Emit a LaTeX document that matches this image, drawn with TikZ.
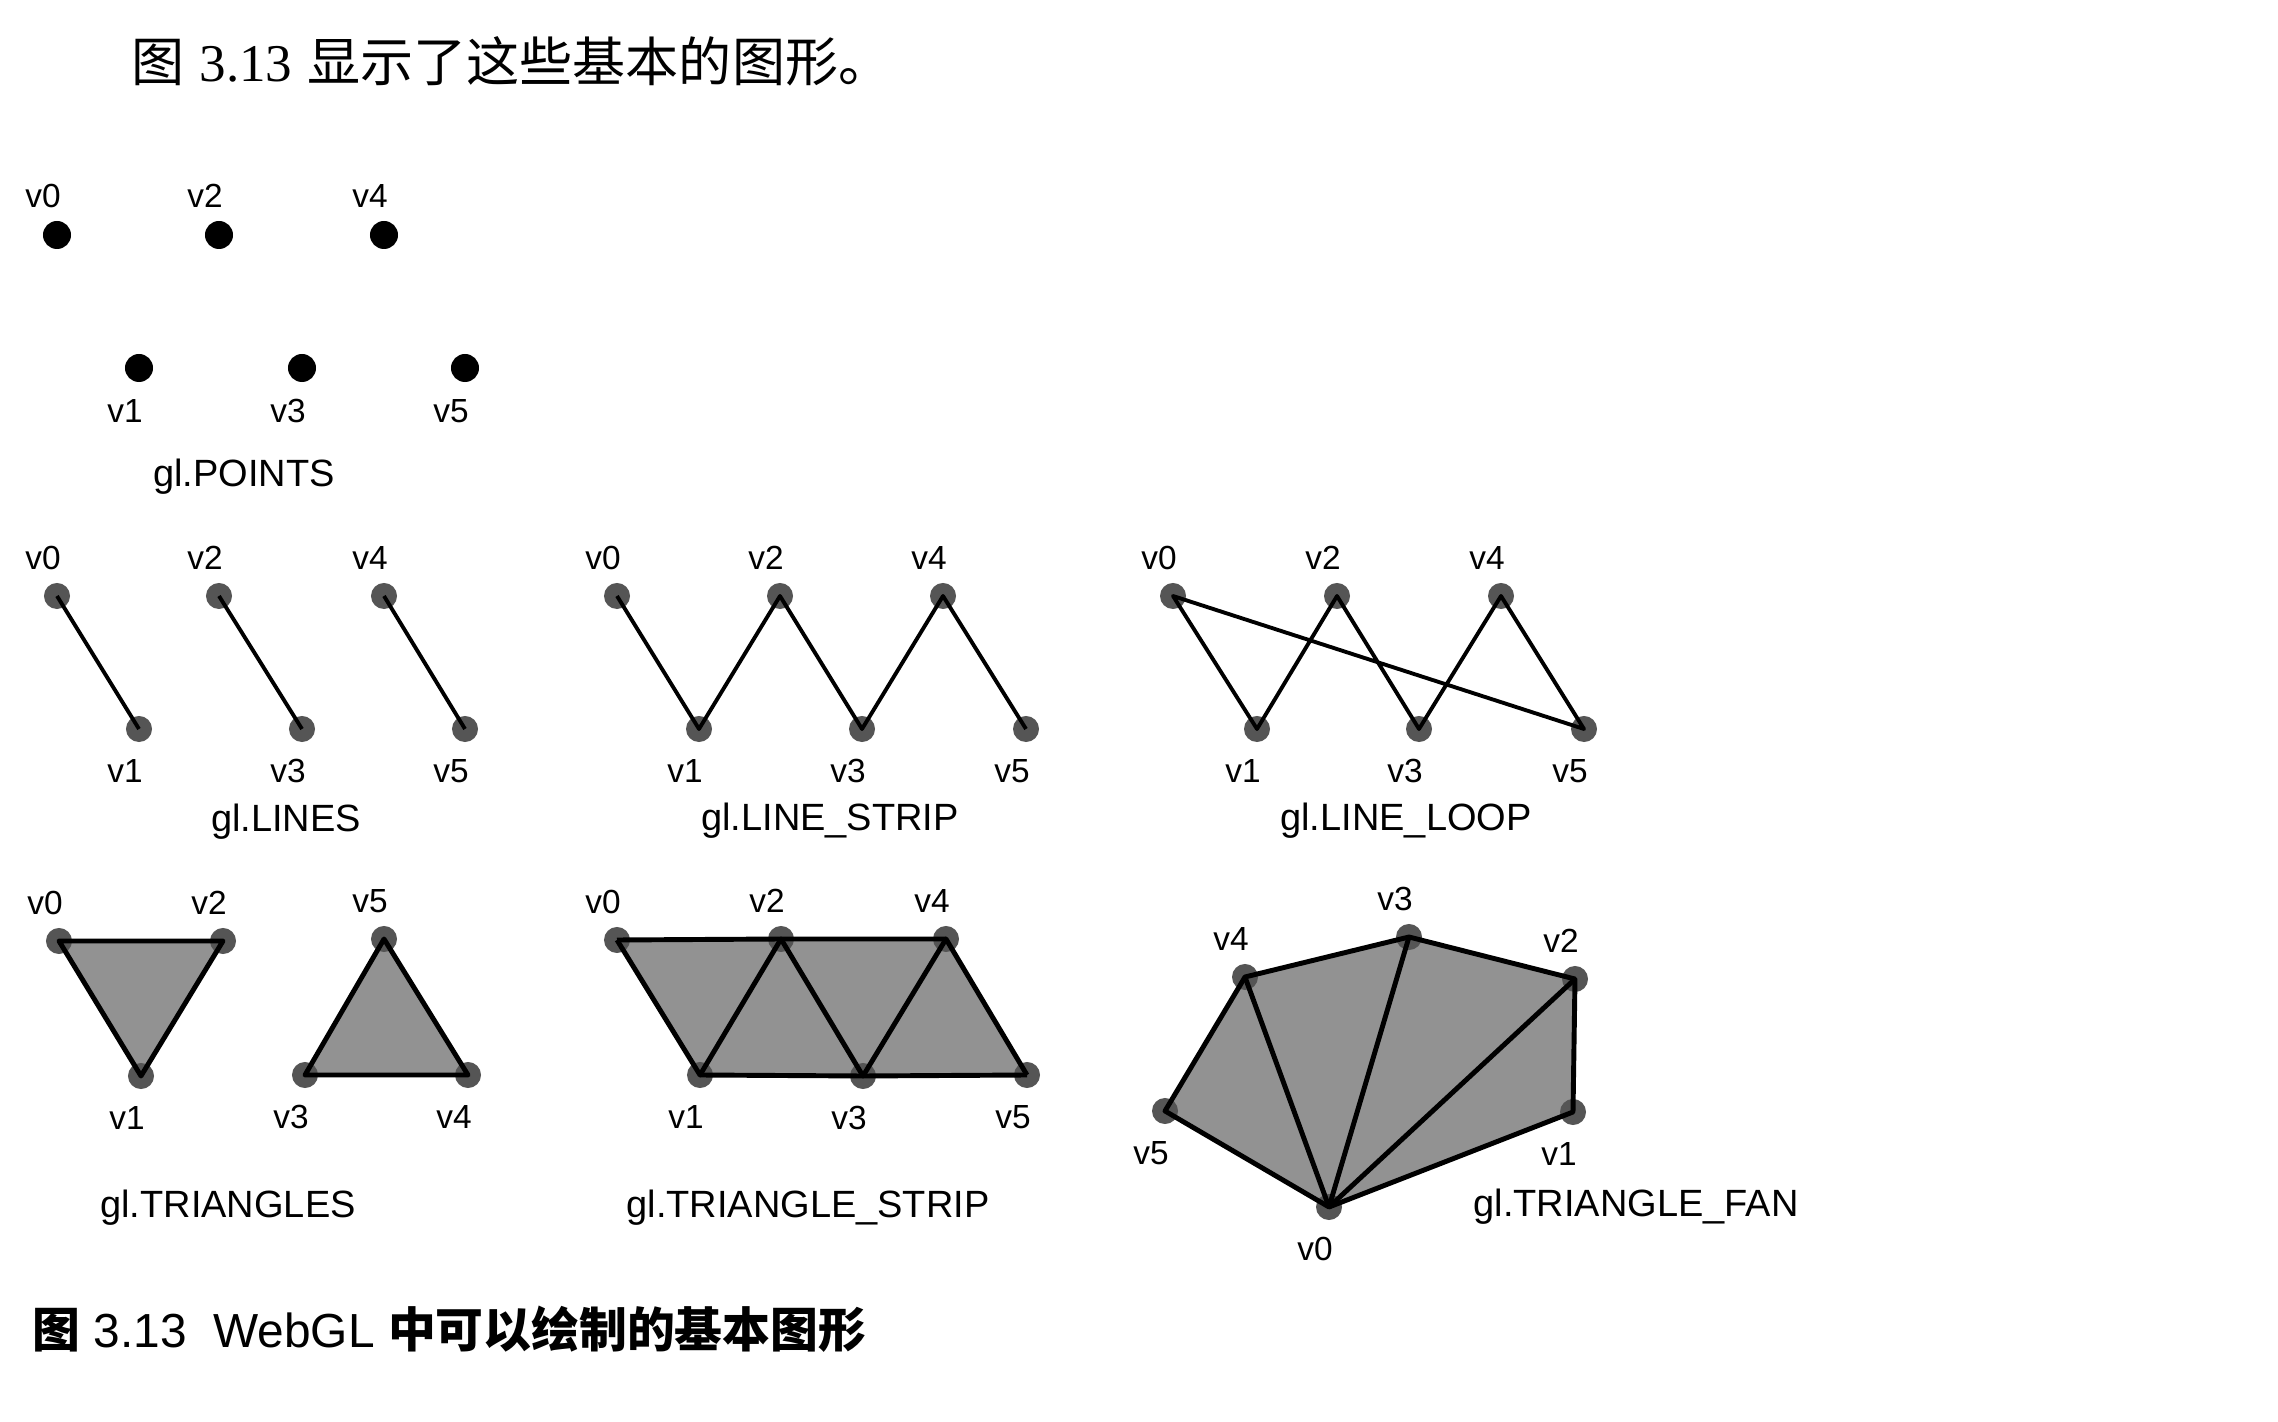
\documentclass[tikz,border=0pt]{standalone}
\usepackage{fontspec}
\setmainfont{Liberation Sans}
\newfontfamily\cjk{Noto Sans CJK SC}
\newfontfamily\serifnum{Liberation Serif}
\usetikzlibrary{positioning,backgrounds}
\definecolor{facegray}{RGB}{146,146,146}
\definecolor{dotgray}{RGB}{85,85,85}
\tikzset{blackdot/.style={circle,fill=black,inner sep=0,minimum size=0.28cm},
         greydot/.style={circle,fill=dotgray,inner sep=0,minimum size=0.26cm},
         vname/.style={inner sep=0,font=\fontsize{9.5}{10}\selectfont},
         vtop/.style={vname,above=0.12cm of #1,xshift=-0.14cm},
         vbot/.style={vname,below=0.16cm of #1,xshift=-0.14cm},
         mode/.style={inner sep=0,anchor=mid,font=\fontsize{10.8}{12}\selectfont},
         wire/.style={line width=1.1pt},
         rim/.style={line width=1.4pt,line join=round},
         facefill/.style={fill=facegray}
}

\begin{document}
\begin{tikzpicture}[x=0.01cm,y=-0.01cm]
\useasboundingbox (0,0) rectangle (2278,1422);

\node[anchor=west,inner sep=0,font=\fontsize{15.1}{17}\selectfont] (intro) at (131,61) {{\cjk 图} {\serifnum 3.13} {\cjk 显示了这些基本的图形。}};

\node[blackdot] (pts0) at (57,235) {};
\node[blackdot] (pts1) at (139,368) {};
\node[blackdot] (pts2) at (219,235) {};
\node[blackdot] (pts3) at (302,368) {};
\node[blackdot] (pts4) at (384,235) {};
\node[blackdot] (pts5) at (465,368) {};
\node[vtop=pts0] (ptsv0) {v0};
\node[vbot=pts1] (ptsv1) {v1};
\node[vtop=pts2] (ptsv2) {v2};
\node[vbot=pts3] (ptsv3) {v3};
\node[vtop=pts4] (ptsv4) {v4};
\node[vbot=pts5] (ptsv5) {v5};
\node[mode] (points) at (244,477) {gl.POINTS};

\node[greydot] (lin0) at (57,596) {};
\node[greydot] (lin1) at (139,729) {};
\node[greydot] (lin2) at (219,596) {};
\node[greydot] (lin3) at (302,729) {};
\node[greydot] (lin4) at (384,596) {};
\node[greydot] (lin5) at (465,729) {};
\node[vtop=lin0] (linv0) {v0};
\node[vbot=lin1] (linv1) {v1};
\node[vtop=lin2] (linv2) {v2};
\node[vbot=lin3] (linv3) {v3};
\node[vtop=lin4] (linv4) {v4};
\node[vbot=lin5] (linv5) {v5};
\node[mode] (lines) at (286,822) {gl.LINES};
\draw[wire] (lin0.center)--(lin1.center);
\draw[wire] (lin2.center)--(lin3.center);
\draw[wire] (lin4.center)--(lin5.center);

\node[greydot] (strip0) at (617,596) {};
\node[greydot] (strip1) at (699,729) {};
\node[greydot] (strip2) at (780,596) {};
\node[greydot] (strip3) at (862,729) {};
\node[greydot] (strip4) at (943,596) {};
\node[greydot] (strip5) at (1026,729) {};
\node[vtop=strip0] (stripv0) {v0};
\node[vbot=strip1] (stripv1) {v1};
\node[vtop=strip2] (stripv2) {v2};
\node[vbot=strip3] (stripv3) {v3};
\node[vtop=strip4] (stripv4) {v4};
\node[vbot=strip5] (stripv5) {v5};
\node[mode] (linestrip) at (830,821) {gl.LINE\_STRIP};
\draw[wire,line join=round] (strip0.center)--(strip1.center)--(strip2.center)--(strip3.center)--(strip4.center)--(strip5.center);

\node[greydot] (loop0) at (1173,596) {};
\node[greydot] (loop1) at (1257,729) {};
\node[greydot] (loop2) at (1337,596) {};
\node[greydot] (loop3) at (1419,729) {};
\node[greydot] (loop4) at (1501,596) {};
\node[greydot] (loop5) at (1584,729) {};
\node[vtop=loop0] (loopv0) {v0};
\node[vbot=loop1] (loopv1) {v1};
\node[vtop=loop2] (loopv2) {v2};
\node[vbot=loop3] (loopv3) {v3};
\node[vtop=loop4] (loopv4) {v4};
\node[vbot=loop5] (loopv5) {v5};
\node[mode] (lineloop) at (1406,821) {gl.LINE\_LOOP};
\draw[wire,line join=round] (loop0.center)--(loop1.center)--(loop2.center)--(loop3.center)--(loop4.center)--(loop5.center)--cycle;

\node[greydot] (tri0) at (59,941) {};
\node[greydot] (tri1) at (141,1076) {};
\node[greydot] (tri2) at (223,941) {};
\node[greydot] (tri3) at (305,1075) {};
\node[greydot] (tri4) at (468,1075) {};
\node[greydot] (tri5) at (384,939) {};
\node[vtop=tri0] (triv0) {v0};
\node[vbot=tri1] (triv1) {v1};
\node[vtop=tri2] (triv2) {v2};
\node[vbot=tri3] (triv3) {v3};
\node[vbot=tri4] (triv4) {v4};
\node[vtop=tri5] (triv5) {v5};
\node[mode] (triangles) at (228,1208) {gl.TRIANGLES};
\begin{pgfonlayer}{background}
\fill[facefill] (tri0.center)--(tri1.center)--(tri2.center)--cycle;
\fill[facefill] (tri3.center)--(tri4.center)--(tri5.center)--cycle;
\end{pgfonlayer}
\draw[rim] (tri0.center)--(tri1.center)--(tri2.center)--cycle;
\draw[rim] (tri3.center)--(tri4.center)--(tri5.center)--cycle;

\node[greydot] (tstrip0) at (617,940) {};
\node[greydot] (tstrip1) at (700,1075) {};
\node[greydot] (tstrip2) at (781,939) {};
\node[greydot] (tstrip3) at (863,1076) {};
\node[greydot] (tstrip4) at (946,939) {};
\node[greydot] (tstrip5) at (1027,1075) {};
\node[vtop=tstrip0] (tstripv0) {v0};
\node[vbot=tstrip1] (tstripv1) {v1};
\node[vtop=tstrip2] (tstripv2) {v2};
\node[vbot=tstrip3] (tstripv3) {v3};
\node[vtop=tstrip4] (tstripv4) {v4};
\node[vbot=tstrip5] (tstripv5) {v5};
\node[mode] (trianglestrip) at (808,1208) {gl.TRIANGLE\_STRIP};
\begin{pgfonlayer}{background}
\fill[facefill] (tstrip0.center)--(tstrip2.center)--(tstrip4.center)--(tstrip5.center)--(tstrip3.center)--(tstrip1.center)--cycle;
\end{pgfonlayer}
\draw[rim] (tstrip0.center)--(tstrip2.center)--(tstrip4.center);
\draw[rim] (tstrip1.center)--(tstrip3.center)--(tstrip5.center);
\draw[rim] (tstrip0.center)--(tstrip1.center)--(tstrip2.center)--(tstrip3.center)--(tstrip4.center)--(tstrip5.center);

\node[greydot] (fan0) at (1329,1207) {};
\node[greydot] (fan1) at (1573,1112) {};
\node[greydot] (fan2) at (1575,979) {};
\node[greydot] (fan3) at (1409,937) {};
\node[greydot] (fan4) at (1245,977) {};
\node[greydot] (fan5) at (1165,1111) {};
\node[vbot=fan0] (fanv0) {v0};
\node[vbot=fan1] (fanv1) {v1};
\node[vtop=fan2] (fanv2) {v2};
\node[vtop=fan3] (fanv3) {v3};
\node[vtop=fan4] (fanv4) {v4};
\node[vbot=fan5] (fanv5) {v5};
\node[mode] (trianglefan) at (1636,1207) {gl.TRIANGLE\_FAN};
\begin{pgfonlayer}{background}
\fill[facefill] (fan0.center)--(fan1.center)--(fan2.center)--(fan3.center)--(fan4.center)--(fan5.center)--cycle;
\end{pgfonlayer}
\draw[rim] (fan0.center)--(fan1.center)--(fan2.center)--(fan3.center)--(fan4.center)--(fan5.center)--cycle;
\draw[rim] (fan0.center)--(fan2.center);
\draw[rim] (fan0.center)--(fan3.center);
\draw[rim] (fan0.center)--(fan4.center);

\node[anchor=west,inner sep=0,font=\fontsize{13.6}{16}\selectfont] (figcap) at (32,1329) {{\cjk\bfseries 图} 3.13\ \ WebGL {\cjk\bfseries 中可以绘制的基本图形}};

\end{tikzpicture}
\end{document}
